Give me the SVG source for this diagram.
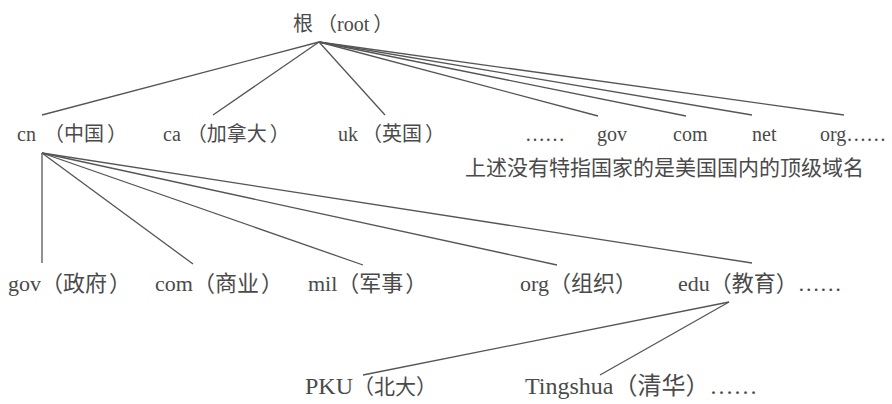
<svg xmlns="http://www.w3.org/2000/svg" width="892" height="404" viewBox="0 0 892 404">
<style>
text{font-family:"Liberation Serif","Noto Sans CJK SC",serif;font-size:20px;fill:#4a4a4a}
.note{font-size:21px}
.r3{font-size:22px}
.r4{font-size:24px}
.cj{font-size:21px}
#edges line{stroke:#555;stroke-width:1.3}
</style>
<rect width="892" height="404" fill="#fff"/>
<g id="edges">
<line x1="319" y1="42" x2="42" y2="115"/>
<line x1="319" y1="42" x2="213" y2="115"/>
<line x1="319" y1="42" x2="385" y2="115"/>
<line x1="319" y1="42" x2="598" y2="116"/>
<line x1="319" y1="42" x2="686" y2="116"/>
<line x1="319" y1="42" x2="752" y2="115"/>
<line x1="319" y1="42" x2="844" y2="115"/>
<line x1="42" y1="153" x2="42" y2="263"/>
<line x1="42" y1="153" x2="193" y2="264"/>
<line x1="42" y1="153" x2="363" y2="265"/>
<line x1="42" y1="153" x2="557" y2="265"/>
<line x1="42" y1="153" x2="752" y2="263"/>
<line x1="729" y1="302" x2="363" y2="375"/>
<line x1="729" y1="302" x2="600" y2="375"/>
</g>
<g id="root"><text x="293" y="31">根<tspan dx="4">（</tspan>root<tspan dx="4">）</tspan></text></g>
<g id="cn"><text x="17" y="141">cn<tspan dx="8">（</tspan>中国<tspan dx="3">）</tspan></text></g>
<g id="ca"><text x="163" y="141">ca<tspan dx="6">（</tspan>加拿大<tspan dx="3">）</tspan></text></g>
<g id="uk"><text x="338" y="141">uk<tspan dx="4">（</tspan>英国<tspan dx="3">）</tspan></text></g>
<g id="etc1"><text x="525" y="141">……</text></g>
<g id="gov1"><text x="597" y="141">gov</text></g>
<g id="com1"><text x="673" y="141">com</text></g>
<g id="net1"><text x="752" y="141">net</text></g>
<g id="org1"><text x="820" y="141">org……</text></g>
<g id="note"><text class="note" x="465" y="175">上述没有特指国家的是美国国内的顶级域名</text></g>
<g id="gov2"><text class="r3" x="8" y="291">gov（政府<tspan dx="2">）</tspan></text></g>
<g id="com2"><text class="r3" x="155" y="291">com（商业<tspan dx="2">）</tspan></text></g>
<g id="mil"><text class="r3" x="308" y="291">mil（军事<tspan dx="2">）</tspan></text></g>
<g id="org2"><text class="r3" x="520" y="291">org（组织）</text></g>
<g id="edu"><text class="r3" x="678" y="291">edu（教育）……</text></g>
<g id="pku"><text class="r4" x="305" y="394">PKU<tspan class="cj">（北大）</tspan></text></g>
<g id="tsinghua"><text class="r4" x="525" y="394">Tingshua（清华）……</text></g>
</svg>
